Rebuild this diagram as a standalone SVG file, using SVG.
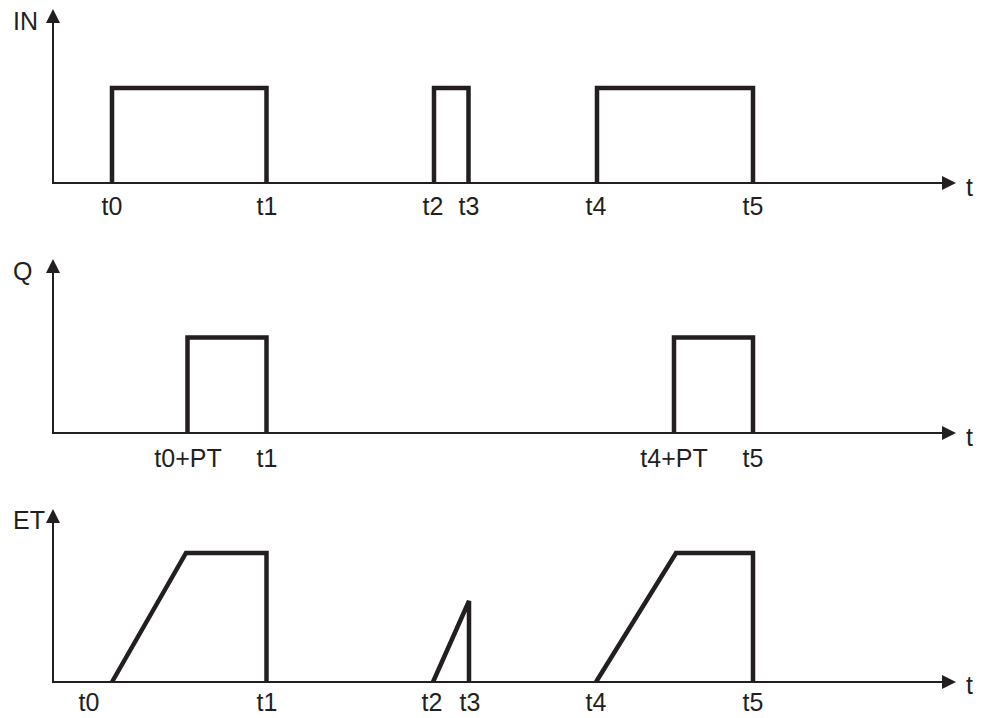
<svg xmlns="http://www.w3.org/2000/svg" width="983" height="718" viewBox="0 0 983 718">
<style>
.axis{stroke:#231f20;stroke-width:2;fill:none}
.sig{stroke:#231f20;stroke-width:4.5;fill:none;stroke-linejoin:miter;stroke-linecap:butt}
.head{fill:#231f20}
text{font-family:"Liberation Sans",Arial,sans-serif;font-size:25px;fill:#231f20}
.c{text-anchor:middle}
</style>
<rect width="983" height="718" fill="#fff"/>
<g id="connectors">
<path class="axis" d="M53,183 V22 M52,183 H944"/>
<path class="head" d="M53,9 L46,23 L60,23 Z"/>
<path class="head" d="M956,183 L942,176 L942,190 Z"/>
<path class="axis" d="M53,433 V272 M52,433 H944"/>
<path class="head" d="M53,259 L46,273 L60,273 Z"/>
<path class="head" d="M956,433 L942,426 L942,440 Z"/>
<path class="axis" d="M53,682 V522 M52,682 H944"/>
<path class="head" d="M53,509 L46,523 L60,523 Z"/>
<path class="head" d="M956,682 L942,675 L942,689 Z"/>
</g>
<g id="panel-in">
<text x="13" y="30">IN</text>
<path class="sig" d="M112,183 V88 H266.5 V183"/>
<path class="sig" d="M434,183 V88 H468.5 V183"/>
<path class="sig" d="M597,183 V88 H753 V183"/>
<text x="966" y="196">t</text>
<text class="c" x="112" y="215">t0</text>
<text class="c" x="267" y="215">t1</text>
<text class="c" x="433" y="215">t2</text>
<text class="c" x="469" y="215">t3</text>
<text class="c" x="596" y="215">t4</text>
<text class="c" x="753" y="215">t5</text>
</g>
<g id="panel-q">
<text x="13" y="280">Q</text>
<path class="sig" d="M187.5,433 V337.5 H266.5 V433"/>
<path class="sig" d="M674,433 V337.5 H753 V433"/>
<text x="966" y="446">t</text>
<text class="c" x="188" y="467">t0+PT</text>
<text class="c" x="267" y="467">t1</text>
<text class="c" x="674" y="467">t4+PT</text>
<text class="c" x="753" y="467">t5</text>
</g>
<g id="panel-et">
<text x="13" y="529">ET</text>
<path class="sig" d="M112,682 L186,553 H266.5 V682"/>
<path class="sig" d="M433,682 L469,601 V682"/>
<path class="sig" d="M596,682 L676,553 H753 V682"/>
<text x="966" y="694">t</text>
<text class="c" x="89" y="711">t0</text>
<text class="c" x="267" y="711">t1</text>
<text class="c" x="432" y="711">t2</text>
<text class="c" x="470" y="711">t3</text>
<text class="c" x="596" y="711">t4</text>
<text class="c" x="753" y="711">t5</text>
</g>
</svg>
